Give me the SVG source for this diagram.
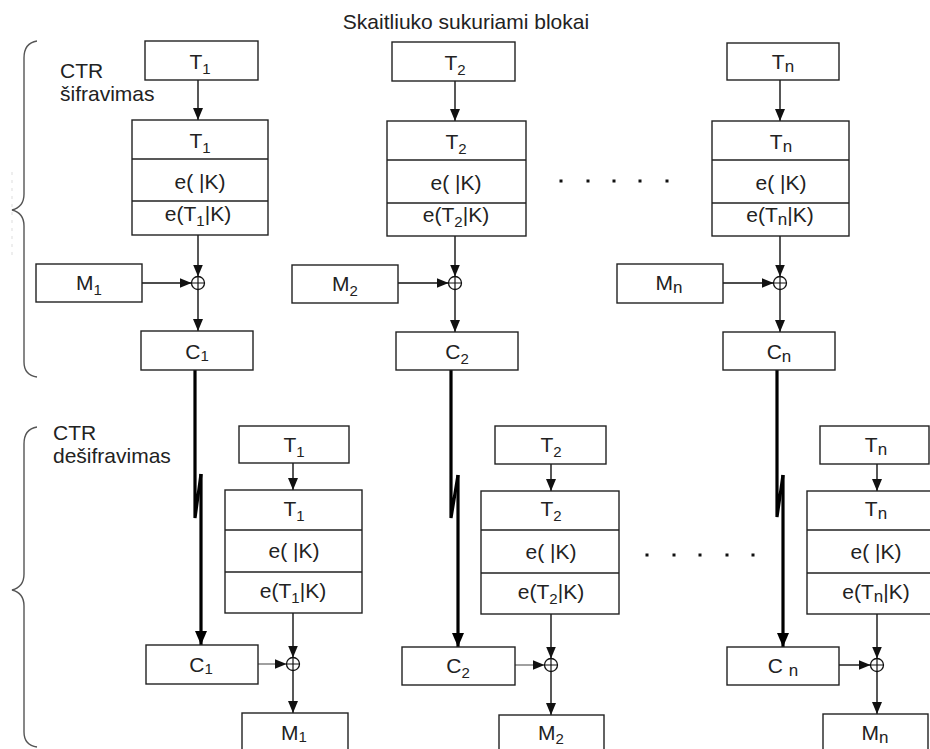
<svg xmlns="http://www.w3.org/2000/svg" width="930" height="749" viewBox="0 0 930 749">
  <defs>
    <style>
      .box { fill: #fff; stroke: #222; stroke-width: 1.4; }
      .div { stroke: #222; stroke-width: 1.4; fill: none; }
      .t { font-family: "Liberation Sans", Arial, sans-serif; font-size: 21px; fill: #222; text-anchor: middle; }
      .lbl { font-family: "Liberation Sans", Arial, sans-serif; font-size: 21px; fill: #222; }
      .sub { font-size: 15px; }
      .subn { font-size: 17px; }
      .arr { stroke: #111; stroke-width: 1.4; fill: none; marker-end: url(#ah); }
      .arrg { stroke: #777; stroke-width: 1.4; fill: none; marker-end: url(#ah); }
      .thick { stroke: #000; stroke-width: 3.2; fill: none; }
      .thickarr { stroke: #000; stroke-width: 3.2; fill: none; marker-end: url(#ahb); }
      .xor { fill: #fff; stroke: #111; stroke-width: 1.3; }
      .brace { stroke: #555; stroke-width: 1.4; fill: none; }
      .dot { fill: #111; }
    </style>
    <marker id="ah" markerUnits="userSpaceOnUse" markerWidth="12" markerHeight="12" viewBox="0 0 12 10" refX="12" refY="5" orient="auto">
      <path d="M0,0 L12,5 L0,10 Z" fill="#111"/>
    </marker>
    <marker id="ahb" markerUnits="userSpaceOnUse" markerWidth="14" markerHeight="14" viewBox="0 0 14 12" refX="14" refY="6" orient="auto">
      <path d="M0,0 L14,6 L0,12 Z" fill="#000"/>
    </marker>
    <g id="xorsym">
      <circle cx="0" cy="0" r="6.5" class="xor"/>
      <path d="M-6.5,0 H6.5 M0,-6.5 V6.5" stroke="#111" stroke-width="1.2"/>
    </g>
  </defs>

  <rect width="930" height="749" fill="#fff"/>

  <!-- title -->
  <text class="t" x="466" y="29">Skaitliuko sukuriami blokai</text>

  <!-- section braces and labels -->
  <g id="enc-label">
    <path class="brace" d="M37,41 Q24,43 24,58 V194 Q24,207 12,210 Q24,213 24,226 V362 Q24,375 37,377"/>
    <path d="M12,172 V258" stroke="#ddd" stroke-width="1" stroke-dasharray="3,5" fill="none"/>
    <text class="lbl" x="60" y="78">CTR</text>
    <text class="lbl" x="60" y="101">šifravimas</text>
  </g>
  <g id="dec-label">
    <path class="brace" d="M37,427 Q24,429 24,444 V574 Q24,587 12,590 Q24,593 24,606 V732 Q24,745 37,747"/>
    <text class="lbl" x="53" y="440">CTR</text>
    <text class="lbl" x="53" y="463">dešifravimas</text>
  </g>

  <!-- ellipsis dots -->
  <g id="dots-top">
    <rect class="dot" x="559.5" y="179.5" width="3" height="3"/>
    <rect class="dot" x="586.5" y="179.5" width="3" height="3"/>
    <rect class="dot" x="612.5" y="179.5" width="3" height="3"/>
    <rect class="dot" x="638.5" y="179.5" width="3" height="3"/>
    <rect class="dot" x="665.5" y="179.5" width="3" height="3"/>
  </g>
  <g id="dots-bottom">
    <rect class="dot" x="645.5" y="553.5" width="3" height="3"/>
    <rect class="dot" x="672.5" y="553.5" width="3" height="3"/>
    <rect class="dot" x="698.5" y="553.5" width="3" height="3"/>
    <rect class="dot" x="725.5" y="553.5" width="3" height="3"/>
    <rect class="dot" x="751.5" y="553.5" width="3" height="3"/>
  </g>

  <!-- connectors -->
  <g id="connectors">
    <!-- encryption column 1 -->
    <path class="arr" d="M198,80 V120"/>
    <path class="arr" d="M198,235 V276.5"/>
    <path class="arr" d="M142,283 H191.5"/>
    <path class="arr" d="M198,289.5 V331"/>
    <!-- encryption column 2 -->
    <path class="arr" d="M455,81 V121"/>
    <path class="arr" d="M455,236 V276.5"/>
    <path class="arr" d="M398,283 H448.5"/>
    <path class="arr" d="M455,289.5 V332"/>
    <!-- encryption column n -->
    <path class="arr" d="M780,80 V121"/>
    <path class="arr" d="M780,236 V276.5"/>
    <path class="arr" d="M723,283 H773.5"/>
    <path class="arr" d="M780,289.5 V332"/>

    <!-- transmission of ciphertext (with channel break) -->
    <path class="thick" d="M195,370 V518 L201,474"/>
    <path class="thickarr" d="M201,474 V645"/>
    <path class="thick" d="M451,370 V518 L458,475"/>
    <path class="thickarr" d="M458,475 V647"/>
    <path class="thick" d="M777,370 V517 L783,475"/>
    <path class="thickarr" d="M783,475 V647"/>

    <!-- decryption column 1 -->
    <path class="arr" d="M293,463 V490"/>
    <path class="arr" d="M293,613 V657.5"/>
    <path class="arrg" d="M258,664 H286.5"/>
    <path class="arr" d="M293,670.5 V713"/>
    <!-- decryption column 2 -->
    <path class="arr" d="M551,464 V491"/>
    <path class="arr" d="M551,614 V658.5"/>
    <path class="arrg" d="M515,665 H544.5"/>
    <path class="arr" d="M551,671.5 V715"/>
    <!-- decryption column n -->
    <path class="arr" d="M877,464 V491"/>
    <path class="arr" d="M877,614 V658.5"/>
    <path class="arr" d="M839,665 H870.5"/>
    <path class="arr" d="M877,671.5 V714"/>
  </g>

  <!-- XOR junctions -->
  <g id="xor-e1"><use href="#xorsym" x="198" y="283"/></g>
  <g id="xor-e2"><use href="#xorsym" x="455" y="283"/></g>
  <g id="xor-en"><use href="#xorsym" x="780" y="283"/></g>
  <g id="xor-d1"><use href="#xorsym" x="293" y="664"/></g>
  <g id="xor-d2"><use href="#xorsym" x="551" y="665"/></g>
  <g id="xor-dn"><use href="#xorsym" x="877" y="665"/></g>

  <!-- ===== encryption ===== -->
  <g id="e-ctr1">
    <rect class="box" x="145" y="41" width="113" height="39"/>
    <text class="t" x="200" y="69">T<tspan class="sub" dy="5">1</tspan></text>
  </g>
  <g id="e-enc1">
    <rect class="box" x="132" y="120" width="136" height="115"/>
    <path class="div" d="M132,159 H268 M132,201 H268"/>
    <text class="t" x="200" y="148">T<tspan class="sub" dy="5">1</tspan></text>
    <text class="t" x="200" y="189">e( |K)</text>
    <text class="t" x="198" y="221">e(T<tspan class="sub" dy="5">1</tspan><tspan dy="-5">|K)</tspan></text>
  </g>
  <g id="e-m1">
    <rect class="box" x="36" y="264" width="106" height="38"/>
    <text class="t" x="89" y="290">M<tspan class="sub" dy="5">1</tspan></text>
  </g>
  <g id="e-c1">
    <rect class="box" x="141" y="331" width="112" height="39"/>
    <text class="t" x="197" y="359">C<tspan class="sub" dy="2">1</tspan></text>
  </g>

  <g id="e-ctr2">
    <rect class="box" x="392" y="42" width="123" height="39"/>
    <text class="t" x="455" y="70">T<tspan class="sub" dy="5">2</tspan></text>
  </g>
  <g id="e-enc2">
    <rect class="box" x="387" y="121" width="139" height="115"/>
    <path class="div" d="M387,160 H526 M387,203 H526"/>
    <text class="t" x="456" y="149">T<tspan class="sub" dy="5">2</tspan></text>
    <text class="t" x="456" y="190">e( |K)</text>
    <text class="t" x="456" y="222">e(T<tspan class="sub" dy="5">2</tspan><tspan dy="-5">|K)</tspan></text>
  </g>
  <g id="e-m2">
    <rect class="box" x="292" y="265" width="106" height="38"/>
    <text class="t" x="345" y="291">M<tspan class="sub" dy="5">2</tspan></text>
  </g>
  <g id="e-c2">
    <rect class="box" x="396" y="332" width="122" height="38"/>
    <text class="t" x="457" y="359">C<tspan class="sub" dy="5">2</tspan></text>
  </g>

  <g id="e-ctrn">
    <rect class="box" x="727" y="43" width="112" height="37"/>
    <text class="t" x="783" y="69">T<tspan class="subn" dy="3">n</tspan></text>
  </g>
  <g id="e-encn">
    <rect class="box" x="712" y="121" width="137" height="115"/>
    <path class="div" d="M712,160 H849 M712,203 H849"/>
    <text class="t" x="781" y="149">T<tspan class="subn" dy="3">n</tspan></text>
    <text class="t" x="781" y="190">e( |K)</text>
    <text class="t" x="780" y="222">e(T<tspan class="subn" dy="3">n</tspan><tspan dy="-3">|K)</tspan></text>
  </g>
  <g id="e-mn">
    <rect class="box" x="617" y="264" width="106" height="39"/>
    <text class="t" x="669" y="290">M<tspan class="subn" dy="3">n</tspan></text>
  </g>
  <g id="e-cn">
    <rect class="box" x="723" y="332" width="112" height="38"/>
    <text class="t" x="779" y="359">C<tspan class="subn" dy="3">n</tspan></text>
  </g>

  <!-- ===== decryption ===== -->
  <g id="d-ctr1">
    <rect class="box" x="239" y="426" width="110" height="37"/>
    <text class="t" x="294" y="452">T<tspan class="sub" dy="5">1</tspan></text>
  </g>
  <g id="d-enc1">
    <rect class="box" x="225" y="490" width="137" height="123"/>
    <path class="div" d="M225,530 H362 M225,572 H362"/>
    <text class="t" x="294" y="516">T<tspan class="sub" dy="5">1</tspan></text>
    <text class="t" x="294" y="558">e( |K)</text>
    <text class="t" x="293" y="598">e(T<tspan class="sub" dy="5">1</tspan><tspan dy="-5">|K)</tspan></text>
  </g>
  <g id="d-c1">
    <rect class="box" x="146" y="645" width="112" height="39"/>
    <text class="t" x="201" y="672">C<tspan class="sub" dy="2">1</tspan></text>
  </g>
  <g id="d-m1">
    <rect class="box" x="242" y="713" width="106" height="45"/>
    <text class="t" x="294" y="740">M<tspan class="sub" dy="2">1</tspan></text>
  </g>

  <g id="d-ctr2">
    <rect class="box" x="495" y="426" width="111" height="38"/>
    <text class="t" x="551" y="452">T<tspan class="sub" dy="5">2</tspan></text>
  </g>
  <g id="d-enc2">
    <rect class="box" x="481" y="491" width="138" height="123"/>
    <path class="div" d="M481,530 H619 M481,573 H619"/>
    <text class="t" x="551" y="516">T<tspan class="sub" dy="5">2</tspan></text>
    <text class="t" x="551" y="559">e( |K)</text>
    <text class="t" x="551" y="599">e(T<tspan class="sub" dy="5">2</tspan><tspan dy="-5">|K)</tspan></text>
  </g>
  <g id="d-c2">
    <rect class="box" x="402" y="647" width="113" height="38"/>
    <text class="t" x="458" y="673">C<tspan class="sub" dy="5">2</tspan></text>
  </g>
  <g id="d-m2">
    <rect class="box" x="499" y="715" width="105" height="45"/>
    <text class="t" x="551" y="740">M<tspan class="sub" dy="4">2</tspan></text>
  </g>

  <g id="d-ctrn">
    <rect class="box" x="820" y="426" width="109" height="38"/>
    <text class="t" x="876" y="452">T<tspan class="subn" dy="3">n</tspan></text>
  </g>
  <g id="d-encn">
    <rect class="box" x="807" y="491" width="135" height="123"/>
    <path class="div" d="M807,530 H942 M807,573 H942"/>
    <text class="t" x="876" y="516">T<tspan class="subn" dy="3">n</tspan></text>
    <text class="t" x="876" y="559">e( |K)</text>
    <text class="t" x="876" y="599">e(T<tspan class="subn" dy="3">n</tspan><tspan dy="-3">|K)</tspan></text>
  </g>
  <g id="d-cn">
    <rect class="box" x="727" y="647" width="112" height="38"/>
    <text class="t" x="783" y="673">C <tspan class="subn" dy="3">n</tspan></text>
  </g>
  <g id="d-mn">
    <rect class="box" x="823" y="714" width="105" height="45"/>
    <text class="t" x="875" y="740">M<tspan class="subn" dy="3">n</tspan></text>
  </g>
</svg>
